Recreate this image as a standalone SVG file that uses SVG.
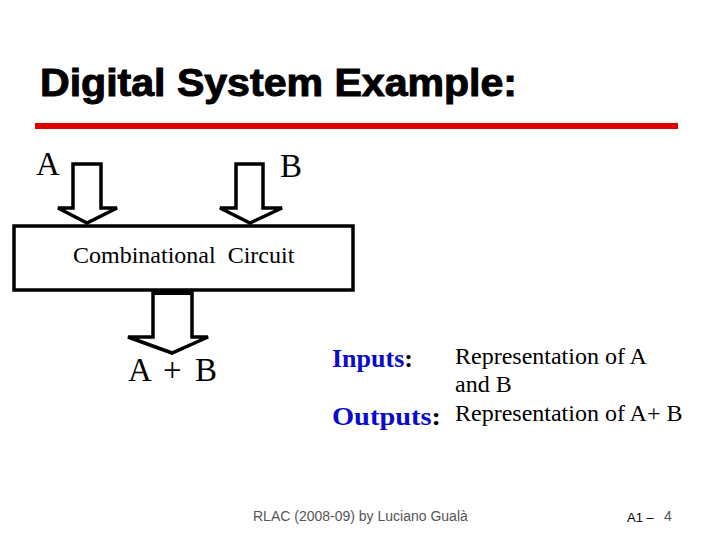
<svg xmlns="http://www.w3.org/2000/svg" width="720" height="540" viewBox="0 0 720 540">
<style>
.serif{font-family:"Liberation Serif","Times New Roman",serif;fill:#000}
.arrow{fill:#fff;stroke:#000;stroke-width:3.5;stroke-linejoin:miter}
.lbl{font-family:"Liberation Serif",serif;font-weight:bold;fill:#0a0acc;font-size:26px}
</style>
<rect width="720" height="540" fill="#fff"/>
<text x="40" y="96" font-family="Liberation Sans, Arial, sans-serif" font-weight="bold" font-size="38" fill="#000" stroke="#000" stroke-width="1" textLength="477" lengthAdjust="spacingAndGlyphs">Digital System Example:</text>
<rect x="35" y="123" width="643" height="6" fill="#e00000"/>
<g id="connectors">
<path class="arrow" d="M73,164 H101 V208 H117 L87,223 L58,208 H73 Z"/>
<path class="arrow" d="M236,164 H263 V208 H282 L250,223 L220,208 H236 Z"/>
<path class="arrow" d="M153,293 H192 V337 H208 L172,353 L128,337 H153 Z"/>
</g>
<g id="box">
<rect x="14" y="226" width="339" height="64" fill="#fff" stroke="#000" stroke-width="3.5"/>
<text x="73" y="263" class="serif" font-size="24" xml:space="preserve">Combinational  Circuit</text>
</g>
<rect x="153" y="291" width="39" height="4" fill="#000"/>
<g id="labels">
<text x="36" y="175" class="serif" font-size="33">A</text>
<text x="280" y="177" class="serif" font-size="33">B</text>
<text y="381" class="serif" font-size="33"><tspan x="128">A</tspan><tspan x="163">+</tspan><tspan x="195">B</tspan></text>
</g>
<g id="legend">
<text x="332" y="367" class="lbl">Inputs<tspan fill="#000">:</tspan></text>
<text x="332" y="425" class="lbl" textLength="109" lengthAdjust="spacingAndGlyphs">Outputs<tspan fill="#000">:</tspan></text>
<text x="455" y="364" class="serif" font-size="24">Representation of A</text>
<text x="455" y="392" class="serif" font-size="24">and B</text>
<text x="455" y="421" class="serif" font-size="24">Representation of A+ B</text>
</g>
<text x="253" y="521" font-family="Liberation Sans, Arial, sans-serif" font-size="14" fill="#555">RLAC (2008-09) by Luciano Gualà</text>
<text x="627" y="522" font-family="Liberation Sans, Arial, sans-serif" font-size="13" fill="#000">A1 –</text>
<text x="664" y="521" font-family="Liberation Sans, Arial, sans-serif" font-size="14" fill="#555">4</text>
</svg>
